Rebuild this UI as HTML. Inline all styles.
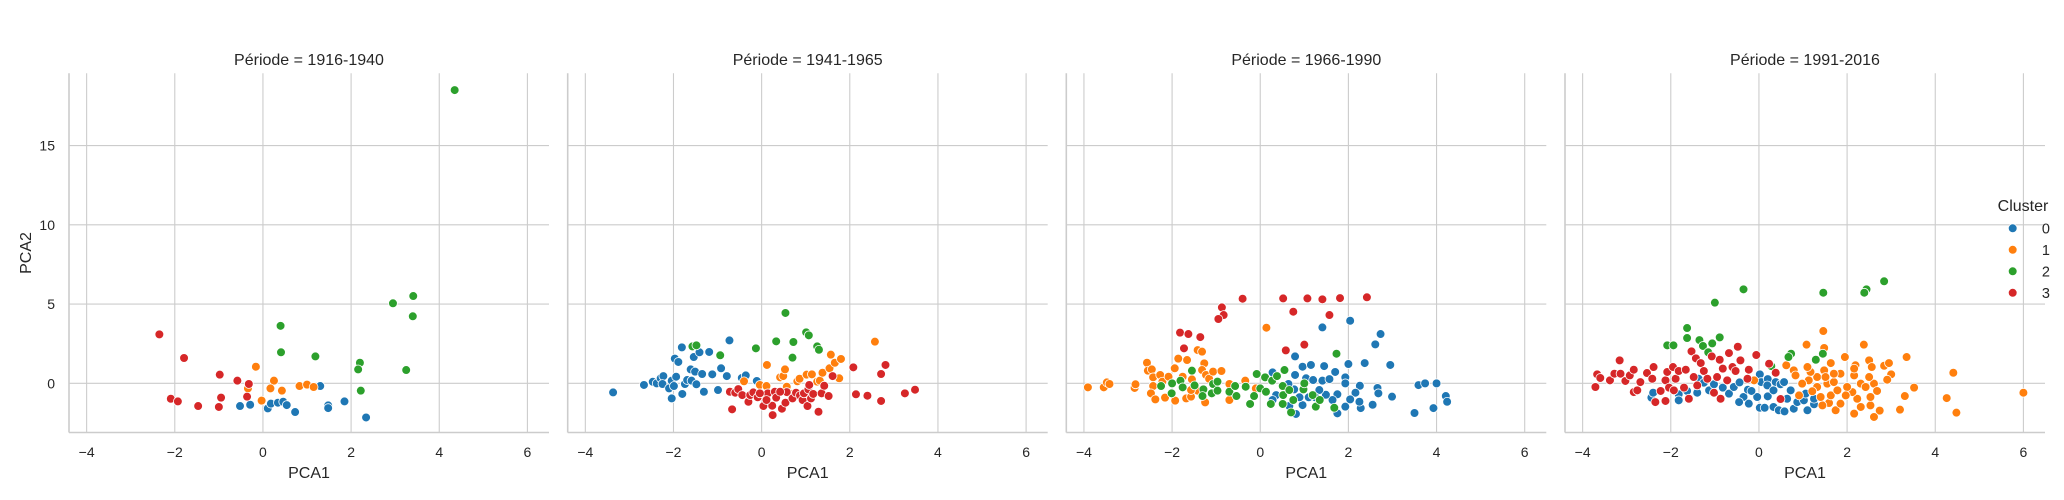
<!DOCTYPE html>
<html><head><meta charset="utf-8"><style>
html,body{margin:0;padding:0;background:#fff;}
svg{display:block;font-family:"Liberation Sans",sans-serif;}
</style></head><body>
<svg id="chart" width="2064" height="500" xmlns="http://www.w3.org/2000/svg"></svg>
<script>
const periods = ["1916-1940","1941-1965","1966-1990","1991-2016"];
const clusters = ["0","1","2","3"];
const colors = ["#1f77b4","#ff7f0e","#2ca02c","#d62728"];
const xTicks = [-4,-2,0,2,4,6];
const yTicks = [0,5,10,15];

const p1_c0 = [[-0.52,-1.43],[-0.29,-1.35],[0.11,-1.58],[0.18,-1.28],[0.34,-1.22],[0.46,-1.16],[0.54,-1.37],[0.73,-1.81],[1.30,-0.17],[1.48,-1.39],[1.48,-1.56],[1.85,-1.14],[2.34,-2.15]];
const p1_c1 = [[-0.16,1.05],[0.25,0.17],[-0.34,-0.32],[0.17,-0.32],[0.43,-0.46],[0.83,-0.17],[1.0,-0.08],[1.15,-0.23],[-0.03,-1.09]];
const p1_c2 = [[0.41,1.96],[1.19,1.7],[2.2,1.3],[2.16,0.88],[3.25,0.84],[2.22,-0.46],[0.40,3.63],[2.95,5.05],[3.41,5.51],[3.40,4.23],[4.35,18.5]];
const p1_c3 = [[-2.35,3.09],[-1.79,1.6],[-0.98,0.55],[-0.58,0.17],[-0.32,-0.04],[-0.36,-0.84],[-0.95,-0.9],[-2.09,-0.97],[-1.93,-1.14],[-1.47,-1.43],[-1.0,-1.49]];

const p2_c0 = [[-3.37,-0.57],[-2.67,-0.1],[-2.47,0.1],[-2.38,0],[-2.29,0.32],[-2.23,0.46],[-2.25,-0.04],[-2.1,-0.32],[-2.04,-0.95],[-2.04,0.17],[-1.99,-0.17],[-1.94,0.42],[-1.97,1.56],[-1.89,1.35],[-1.81,2.27],[-1.8,-0.67],[-1.74,-0.04],[-1.69,0.21],[-1.61,0.88],[-1.59,0.17],[-1.51,0.74],[-1.54,1.66],[-1.48,-0.06],[-1.41,1.96],[-1.35,0.59],[-1.31,-0.53],[-1.19,1.98],[-1.12,0.57],[-0.99,-0.42],[-0.92,0.95],[-0.79,0.46],[-0.73,2.71],[-0.45,0.34],[-0.36,0.5],[-0.11,0.15]];
const p2_c1 = [[-0.4,0.13],[-0.04,-0.1],[0.11,-0.17],[0.12,1.16],[0.08,-0.84],[0.42,0.38],[0.49,0.46],[0.53,0.88],[0.57,-0.21],[0.63,-0.63],[0.81,0.13],[0.86,0.29],[1.02,0.55],[1.14,0.57],[1.26,0.11],[1.32,0.17],[1.38,0.67],[1.54,0.95],[1.57,1.81],[1.66,1.3],[1.8,1.54],[1.76,0.32],[2.57,2.63]];
const p2_c2 = [[-1.57,2.33],[-1.48,2.4],[-0.94,1.77],[-0.13,2.21],[0.33,2.65],[0.54,4.44],[0.72,2.61],[0.7,1.62],[1.01,3.22],[1.07,3.03],[1.26,2.33],[1.3,2.12]];
const p2_c3 = [[-0.72,-0.53],[-0.67,-1.64],[-0.6,-0.59],[-0.53,-0.36],[-0.44,-0.74],[-0.3,-1.16],[-0.26,-0.74],[-0.19,-0.57],[-0.09,-0.88],[0.04,-1.43],[0.14,-0.63],[0.24,-1.41],[0.25,-2.0],[0.3,-0.53],[0.33,-0.9],[0.46,-1.6],[0.54,-1.22],[0.57,-0.55],[0.7,-0.95],[0.78,-0.59],[0.87,-0.76],[0.93,-1.05],[0.96,-0.63],[1.04,-1.43],[1.06,-0.38],[1.08,-0.1],[1.12,-0.95],[1.17,-0.67],[1.29,-1.79],[1.36,-0.63],[1.42,-0.15],[1.52,-0.8],[1.61,0.46],[2.08,1.01],[2.14,-0.69],[2.4,-0.78],[2.71,0.59],[2.71,-1.11],[2.81,1.16],[3.25,-0.63],[3.48,-0.4],[-0.04,-0.63],[0.11,-1.05],[0.42,-0.53]];

const p3_c0 = [[0.28,0.69],[0.79,1.7],[0.79,0.53],[0.96,1.05],[1.15,1.16],[1.04,0.32],[1.2,0.21],[1.41,3.53],[1.45,1.09],[1.41,0.17],[1.57,0.27],[1.7,0.72],[1.93,0.38],[1.93,0],[2.04,3.95],[2.0,1.22],[2.37,1.28],[2.61,2.46],[2.73,3.11],[2.95,1.16],[2.26,-0.15],[2.16,-0.59],[2.66,-0.29],[2.68,-0.63],[2.99,-0.84],[3.59,-0.11],[3.74,0],[4.0,0],[4.21,-0.8],[4.24,-1.16],[3.93,-1.56],[3.5,-1.87],[2.55,-1.35],[2.28,-1.56],[2.25,-1.16],[2.04,-1.01],[1.93,-1.47],[1.75,-0.69],[1.75,-1.89],[1.64,-1.05],[1.49,-0.72],[1.34,-0.42],[1.25,-0.88],[1.1,-0.88],[0.96,-1.37],[0.89,-0.88],[0.81,-1.93],[0.66,-1.43],[0.77,-0.38],[0.64,-0.04],[0.36,-0.74],[0.28,-1.05]];
const p3_c1 = [[0.14,3.51],[-3.91,-0.25],[-3.55,-0.25],[-3.48,0.06],[-3.42,-0.04],[-2.85,-0.29],[-2.83,-0.06],[-2.57,1.3],[-2.55,0.8],[-2.46,0.88],[-2.43,0.38],[-2.43,-0.17],[-2.27,0.53],[-2.22,0.11],[-2.48,-0.63],[-2.38,-1.01],[-2.16,-0.9],[-2.08,0.42],[-1.94,0.95],[-1.93,-1.09],[-1.86,1.56],[-1.76,0.42],[-1.68,-0.95],[-1.66,1.47],[-1.57,-0.84],[-1.55,0.25],[-1.42,2.1],[-1.32,2.0],[-1.27,1.26],[-1.32,0.84],[-1.23,0.53],[-1.16,0.29],[-1.07,0.74],[-0.88,0.78],[-1.25,-1.2],[-0.7,-0.04],[-0.7,-1.05],[-0.34,0.17],[-0.1,-0.32],[-1.42,-0.46],[-1.57,-0.42]];
const p3_c2 = [[-2.25,-0.17],[-2.0,0],[-2.01,-0.63],[-1.81,0.17],[-1.76,-0.25],[-1.55,0.8],[-1.49,-0.13],[-1.29,-0.38],[-1.31,-0.8],[-1.1,-0.63],[-1.07,-0.04],[-0.97,0.11],[-0.97,-0.46],[-0.7,-0.53],[-0.57,-0.17],[-0.54,-0.8],[-0.33,-0.21],[-0.23,-1.3],[-0.14,-0.8],[-0.08,0.59],[0,-0.32],[0.11,0.38],[0.13,-0.53],[0.24,-1.3],[0.27,0.17],[0.38,0.46],[0.51,-0.17],[0.52,-0.74],[0.55,0.84],[0.66,-0.42],[0.7,-1.83],[0.75,-1.05],[0.98,-0.38],[1.0,0],[1.19,-0.74],[1.26,-1.47],[1.35,-1.05],[1.68,-1.54],[1.73,1.87],[0.51,-1.3]];
const p3_c3 = [[-0.4,5.34],[0.52,5.36],[1.07,5.36],[1.41,5.3],[1.81,5.38],[2.42,5.43],[-0.87,4.79],[-0.83,4.31],[-0.95,4.06],[0.75,4.52],[1.57,4.31],[-1.82,3.2],[-1.63,3.11],[-1.36,2.92],[-1.73,2.21],[0.58,2.08],[1.0,2.44]];

const p4_c0 = [[-2.44,-0.9],[-2.4,-0.59],[-1.82,-0.69],[-1.82,-1.07],[-1.63,-0.48],[-1.4,-0.59],[-1.37,0.29],[-1.25,0.04],[-1.13,-0.44],[-1.02,-0.06],[-0.82,-0.27],[-0.68,-0.65],[-0.57,-0.23],[-0.44,0.06],[-0.35,-0.86],[-0.45,-1.18],[-0.23,-1.28],[-0.25,-0.4],[-0.04,-0.86],[0.02,0.57],[0.05,0.08],[0.02,-1.54],[0.13,-1.54],[0.2,0.27],[0.19,-0.13],[0.2,-0.82],[0.33,-1.49],[0.38,0.08],[0.49,-0.06],[0.57,0.08],[0.45,-1.7],[0.58,-1.77],[0.64,-0.97],[0.72,-0.44],[0.79,-1.6],[0.87,-1.18],[1.02,-1.07],[1.1,-1.7],[1.25,-1.32],[1.25,-0.97],[1.06,-0.65],[0.33,-0.44],[-0.17,-0.48]];
const p4_c1 = [[1.46,3.3],[1.08,2.44],[1.48,2.23],[2.38,2.44],[1.95,1.66],[3.35,1.66],[4.41,0.67],[6.0,-0.59],[4.26,-0.93],[4.48,-1.85],[3.2,-1.66],[3.52,-0.27],[3.31,-0.8],[3.0,0.57],[2.91,0.23],[2.84,1.11],[2.95,1.28],[2.5,1.45],[2.56,1.03],[2.19,1.14],[2.16,0.5],[2.61,-0.02],[2.68,-0.48],[2.74,-1.72],[2.61,-2.12],[2.16,-1.91],[2.31,-1.49],[2.53,-1.39],[2.53,-0.86],[2.23,-0.97],[2.12,-0.55],[2.31,-0.02],[1.74,-1.7],[1.85,-1.28],[1.59,-1.24],[1.44,-1.39],[1.63,-0.76],[1.4,-0.86],[1.32,-0.23],[1.55,-0.02],[1.7,0.08],[1.85,0.61],[1.63,1.28],[1.48,0.82],[1.32,0.4],[1.17,0.72],[1.13,0.19],[0.98,-0.02],[1.21,-0.5],[0.91,-0.76],[0.79,0.82],[0.83,0.5],[0.62,1.14],[1.1,1.03],[1.7,0.61],[2.0,-0.23],[1.97,-0.76],[1.78,-0.44],[1.51,0.4],[2.16,0.93],[2.5,0.4],[2.42,-0.23],[-0.11,0.19]];
const p4_c2 = [[-0.35,5.93],[-1.0,5.09],[1.46,5.72],[2.44,5.93],[2.39,5.72],[2.84,6.44],[-1.63,3.49],[-1.63,2.86],[-1.35,2.73],[-1.27,2.36],[-1.06,2.52],[-0.89,2.9],[-1.15,1.96],[-2.08,2.4],[-1.94,2.4],[0.73,1.87],[0.67,1.66],[1.29,1.49],[1.45,1.87],[0.28,1.09]];
const p4_c3 = [[-3.71,-0.23],[-3.67,0.57],[-3.6,0.34],[-3.38,0.19],[-3.28,0.61],[-3.16,1.45],[-3.14,0.61],[-3.03,0.15],[-2.93,0.5],[-2.84,0.86],[-2.84,-0.55],[-2.76,-0.44],[-2.69,0.08],[-2.54,0.65],[-2.39,1.03],[-2.42,0.29],[-2.35,-1.18],[-2.12,-1.11],[-2.12,0.19],[-2.08,0.72],[-2.04,-0.27],[-1.95,1.03],[-1.89,0.29],[-1.82,0.78],[-1.7,-0.27],[-1.66,0.86],[-1.59,-0.97],[-1.53,2.02],[-1.48,0.4],[-1.43,1.58],[-1.32,1.28],[-1.25,0.78],[-1.17,0.29],[-1.07,1.7],[-1.02,-0.59],[-0.95,0.4],[-0.89,1.49],[-0.87,-0.97],[-0.82,0.93],[-0.72,0.19],[-0.68,1.91],[-0.6,1.03],[-0.53,0.78],[-0.48,2.31],[-0.42,1.45],[-0.23,0.86],[-0.06,1.79],[0.23,1.24],[0.38,0.67],[0.49,-0.99],[-1.4,-0.13],[-1.93,-0.44],[-2.23,-0.48],[-0.26,0.29]];

const panelData = [[p1_c0,p1_c1,p1_c2,p1_c3],[p2_c0,p2_c1,p2_c2,p2_c3],[p3_c0,p3_c1,p3_c2,p3_c3],[p4_c0,p4_c1,p4_c2,p4_c3]];

const NS = "http://www.w3.org/2000/svg";
const svg = document.getElementById("chart");
function mk(tag, attrs, parent){ const e=document.createElementNS(NS,tag); for(const k in attrs) e.setAttribute(k,attrs[k]); (parent||svg).appendChild(e); return e; }

const panelLeft = [69, 567.7, 1066.3, 1565];
const PW = 480, TOP = 73.3, BOT = 432.5;
const xMin = -4.40, xMax = 6.49, yMin = -3.1, yMax = 19.56;
function sx(p, v){ return panelLeft[p] + (v - xMin) / (xMax - xMin) * PW; }
function sy(v){ return BOT - (v - yMin) / (yMax - yMin) * (BOT - TOP); }

panelData.forEach((series, p) => {
  const g = mk("g", {});
  
  
  xTicks.forEach(t => {
    const l = mk("line", {x1:sx(p,t), x2:sx(p,t), y1:TOP, y2:BOT, stroke:"#cccccc", "stroke-width":1.1}, g);
    
    
    const tx = mk("text", {x:sx(p,t), y:457, "text-anchor":"middle", "font-size":14, fill:"#262626"}, g);
    tx.textContent = t < 0 ? "\u2212" + Math.abs(t) : String(t);
    
    
  });
  yTicks.forEach(t => {
    const l = mk("line", {x1:panelLeft[p], x2:panelLeft[p]+PW, y1:sy(t), y2:sy(t), stroke:"#cccccc", "stroke-width":1.1}, g);
    
    
    if (p === 0) {
      const tx = mk("text", {x:55, y:sy(t)+5, "text-anchor":"end", "font-size":14, fill:"#262626"}, g);
      tx.textContent = String(t);
      
      
    }
  });
  const ls = mk("line", {x1:panelLeft[p], x2:panelLeft[p], y1:TOP, y2:BOT, stroke:"#cccccc", "stroke-width":1.6}, g);
  
  
  const bs = mk("line", {x1:panelLeft[p], x2:panelLeft[p]+PW, y1:BOT, y2:BOT, stroke:"#cccccc", "stroke-width":1.6}, g);
  
  
  const title = mk("text", {x:panelLeft[p]+PW/2, y:65, "text-anchor":"middle", "font-size":16, fill:"#262626"}, g);
  title.textContent = "Période = " + periods[p];
  
  
  const xl = mk("text", {x:panelLeft[p]+PW/2, y:478, "text-anchor":"middle", "font-size":16, fill:"#262626"}, g);
  xl.textContent = "PCA1";
  
  
  series.forEach((pts, c) => {
    pts.forEach(pt => {
      const d = mk("circle", {cx:sx(p,pt[0]), cy:sy(pt[1]), r:4.4, fill:colors[c], stroke:"#ffffff", "stroke-width":0.8}, g);
      
      
    });
  });
});

const yl = mk("text", {x:0, y:0, transform:"translate(31,253) rotate(-90)", "text-anchor":"middle", "font-size":16, fill:"#262626"});
yl.textContent = "PCA2";



const lg = mk("g", {});


const lt = mk("text", {x:2023, y:211, "text-anchor":"middle", "font-size":16, fill:"#262626"}, lg);
lt.textContent = "Cluster";


clusters.forEach((c, i) => {
  const y = 228.3 + i * 21.5;
  const m = mk("circle", {cx:2012.7, cy:y, r:4.4, fill:colors[i], stroke:"#ffffff", "stroke-width":0.8}, lg);
  
  
  const t = mk("text", {x:2050, y:y+5, "text-anchor":"end", "font-size":14.5, fill:"#262626"}, lg);
  t.textContent = c;
  
  
});
</script>
</body></html>
